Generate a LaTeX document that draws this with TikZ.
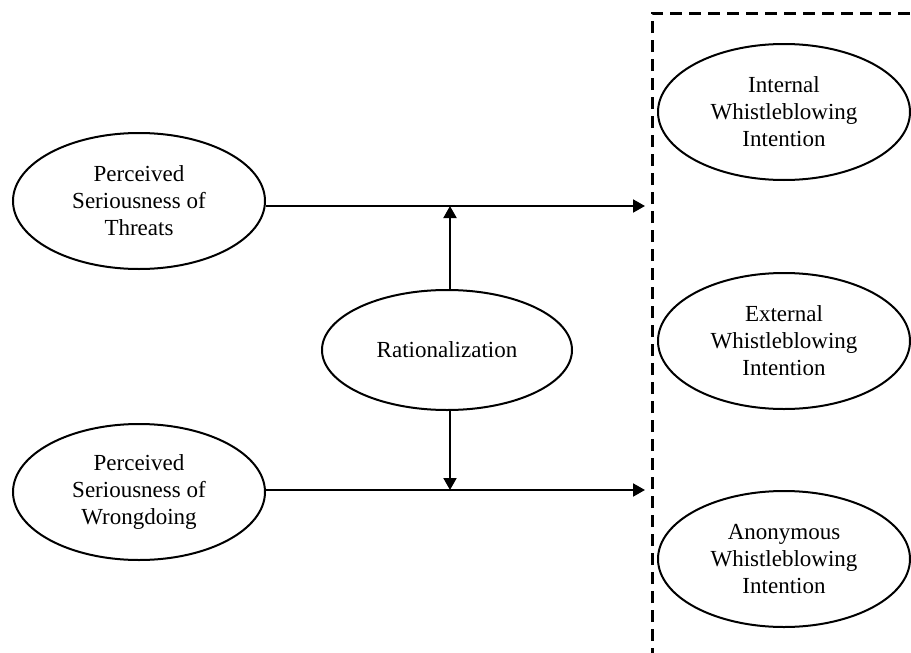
\documentclass[tikz,border=0pt]{standalone}
\usepackage{fontspec}
\setmainfont{Liberation Serif}
\usetikzlibrary{shapes.geometric,arrows.meta}
\begin{document}
\begin{tikzpicture}[x=1pt,y=-1pt,
  construct/.style={draw, ellipse, line width=2pt, minimum width=252pt, minimum height=136pt, inner sep=0pt, align=center, font=\fontsize{23}{27}\selectfont},
  link/.style={line width=2pt, -{Triangle[length=12pt,width=13pt]}},
  group/.style={line width=3pt, dash pattern=on 12pt off 7pt}]
\useasboundingbox (0,0) rectangle (911,653);
\node[construct] (T) at (139,201) {Perceived\\Seriousness of\\Threats};
\node[construct] (W) at (139,492) {Perceived\\Seriousness of\\Wrongdoing};
\node[construct, minimum width=250pt, minimum height=120pt] (R) at (447,350) {Rationalization};
\node[construct] (I) at (784,112) {Internal\\Whistleblowing\\Intention};
\node[construct] (E) at (784,341) {External\\Whistleblowing\\Intention};
\node[construct] (A) at (784,559) {Anonymous\\Whistleblowing\\Intention};
\coordinate (t1) at (645,206);
\coordinate (w1) at (645,490);
\coordinate (tm) at (450,206);
\coordinate (wm) at (450,490);
\coordinate (rt) at (450,290);
\coordinate (rb) at (450,410);
\draw[link] (T.east |- t1) -- (t1);
\draw[link] (W.east |- w1) -- (w1);
\draw[link] (rt) -- (tm);
\draw[link] (rb) -- (wm);
\coordinate (g1) at (652,660);
\coordinate (g2) at (652,13);
\coordinate (g3) at (920,13);
\draw[group] (g1) -- (g2) -- (g3);
\end{tikzpicture}
\end{document}
